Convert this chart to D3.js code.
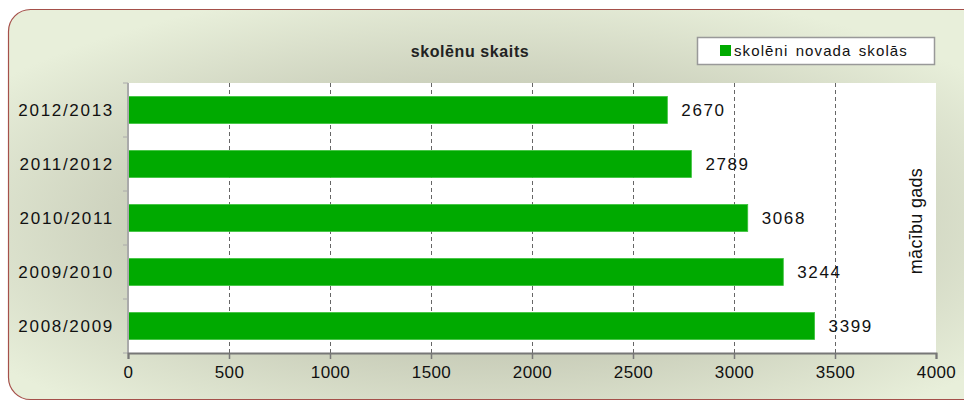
<!DOCTYPE html>
<html><head><meta charset="utf-8">
<script src="https://cdn.jsdelivr.net/npm/d3@7"></script>
<style>body{margin:0;background:#fff}svg{display:block}</style>
</head><body>
<script>
const categories = ["2012/2013","2011/2012","2010/2011","2009/2010","2008/2009"];
const values = [2670, 2789, 3068, 3244, 3399];
const xTicks = [0,500,1000,1500,2000,2500,3000,3500,4000];
const title = "skolēnu skaits";
const seriesName = "skolēni novada skolās";
const yTitle = "mācību gads";

const W = 964, H = 403;
const svg = d3.select("body").append("svg").attr("width", W).attr("height", H);
const defs = svg.append("defs");
const rg = defs.append("radialGradient").attr("id","bg")
  .attr("cx","0.49").attr("cy","0.55").attr("r","0.62").attr("fx","0.49").attr("fy","0.55");
rg.append("stop").attr("offset","0").attr("stop-color","#abae99");
rg.append("stop").attr("offset","0.45").attr("stop-color","#c3c7b3");
rg.append("stop").attr("offset","1").attr("stop-color","#e8efda");

svg.append("rect").attr("x",8.5).attr("y",9.5).attr("width",990).attr("height",390)
  .attr("rx",22).attr("ry",22).attr("fill","url(#bg)").attr("stroke","#a5504a").attr("stroke-width",1.2);

const m = {left:128, right:936, top:83, bottom:353};
const x = d3.scaleLinear().domain([0,4000]).range([m.left, m.right]);
const y = d3.scaleBand().domain(categories).range([m.top, m.bottom]).paddingInner(0.5).paddingOuter(0.25);

svg.append("rect").attr("x",m.left).attr("y",m.top).attr("width",m.right-m.left).attr("height",m.bottom-m.top).attr("fill","#fff");

// grid
svg.append("g").selectAll("line").data(xTicks.filter(d=>d>0 && d<4000)).join("line")
  .attr("x1",d=>x(d)+0.5).attr("x2",d=>x(d)+0.5).attr("y1",m.top).attr("y2",m.bottom)
  .attr("stroke","#666").attr("stroke-dasharray","4,3").attr("stroke-width",1);

// bars
svg.append("g").selectAll("rect").data(values).join("rect")
  .attr("x",x(0)).attr("y",(d,i)=>y(categories[i]))
  .attr("width",d=>x(d)-x(0)).attr("height",y.bandwidth())
  .attr("fill","#00aa00").attr("stroke","#3cc23c").attr("stroke-width",0.8);

// value labels
svg.append("g").selectAll("text").data(values).join("text")
  .attr("x",d=>x(d)+14).attr("y",(d,i)=>y(categories[i])+y.bandwidth()/2)
  .attr("dy","0.36em").attr("font-family","Liberation Sans, Arial, sans-serif").attr("font-size",17)
  .attr("letter-spacing",1.6).attr("fill","#111").text(d=>d);

// left axis
const yAx = svg.append("g").attr("transform",`translate(${m.left},0)`);
yAx.append("line").attr("x1",0).attr("x2",0).attr("y1",m.top).attr("y2",m.bottom).attr("stroke","#aaa").attr("stroke-width",2);
const step = y.step();
yAx.selectAll("line.t").data(d3.range(0,categories.length+1)).join("line").attr("class","t")
  .attr("x1",-5).attr("x2",0).attr("y1",i=>m.top+i*step).attr("y2",i=>m.top+i*step).attr("stroke","#aaa");
yAx.selectAll("text").data(categories).join("text")
  .attr("x",-14).attr("y",d=>y(d)+y.bandwidth()/2).attr("dy","0.36em").attr("text-anchor","end")
  .attr("font-family","Liberation Sans, Arial, sans-serif").attr("font-size",17)
  .attr("letter-spacing",1.7).attr("fill","#111").text(d=>d);

// bottom axis
const xAxis = d3.axisBottom(x).tickValues(xTicks).tickSize(6).tickPadding(7).tickFormat(d3.format("d"));
const gx = svg.append("g").attr("transform",`translate(0,${m.bottom})`).call(xAxis);
gx.select(".domain").attr("stroke","#777").attr("stroke-width",2);
gx.selectAll(".tick line").attr("stroke","#777").attr("stroke-width",1.5);
gx.selectAll("text").attr("font-family","Liberation Sans Narrow, Arial Narrow, Liberation Sans, sans-serif")
  .attr("font-size",17).attr("letter-spacing",0.4).attr("fill","#111");

// title
svg.append("text").attr("x",470).attr("y",57).attr("text-anchor","middle")
  .attr("font-family","Liberation Sans, Arial, sans-serif").attr("font-size",16).attr("font-weight","bold")
  .attr("letter-spacing",0.6).attr("fill","#222").text(title);

// legend
const lg = svg.append("g");
lg.append("rect").attr("x",697.5).attr("y",37.5).attr("width",237).attr("height",27).attr("fill","#fff").attr("stroke","#999").attr("stroke-width",1.5);
lg.append("rect").attr("x",720).attr("y",45).attr("width",11).attr("height",11).attr("fill","#00aa00");
lg.append("text").attr("x",734).attr("y",51).attr("dy","0.36em")
  .attr("font-family","Liberation Sans, Arial, sans-serif").attr("font-size",15).attr("fill","#111")
  .attr("letter-spacing",1.1).attr("word-spacing",2).text(seriesName);

// right y title
svg.append("text").attr("transform",`translate(922,${(m.top+m.bottom)/2+3}) rotate(-90)`)
  .attr("text-anchor","middle").attr("font-family","Liberation Sans Narrow, Arial Narrow, Liberation Sans, sans-serif")
  .attr("font-size",18).attr("letter-spacing",0.3).attr("fill","#111").text(yTitle);
</script>
</body></html>
